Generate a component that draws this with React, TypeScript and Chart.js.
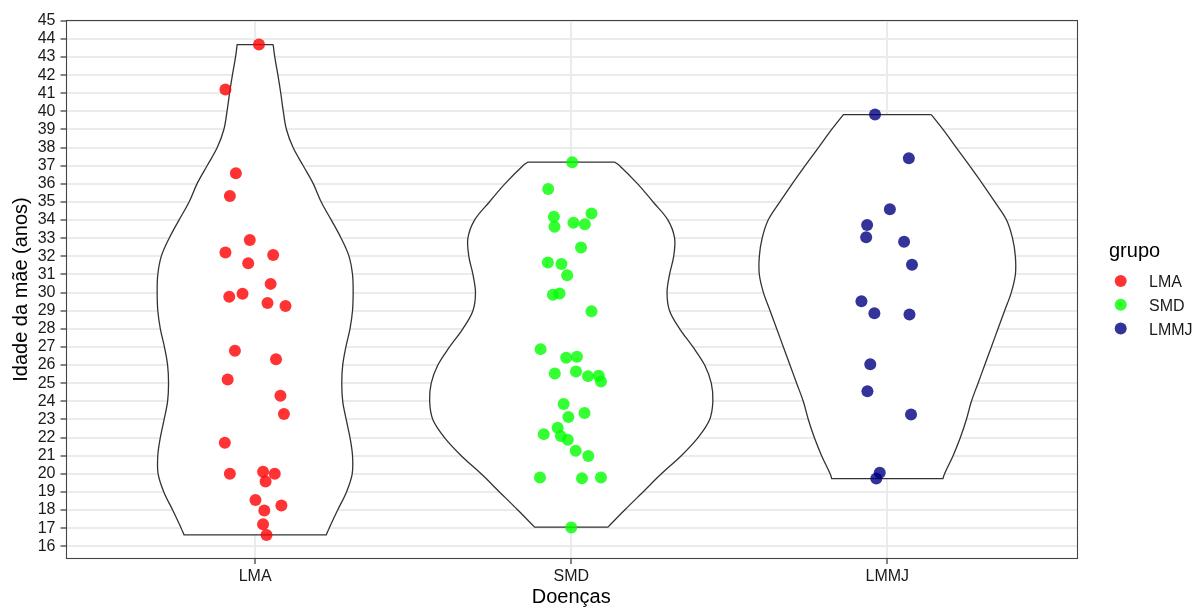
import React, { useEffect, useRef } from 'react';
import { Chart, registerables } from 'chart.js';

Chart.register(...registerables);

// ---------- data ----------
const categories = ['LMA', 'SMD', 'LMMJ'];
const legendTitle = 'grupo';
const xTitle = 'Doenças';
const yTitle = 'Idade da mãe (anos)';
const yTickValues = [16, 17, 18, 19, 20, 21, 22, 23, 24, 25, 26, 27, 28, 29, 30, 31, 32, 33, 34, 35, 36, 37, 38, 39, 40, 41, 42, 43, 44, 45];
const pointColors = ['rgba(255,0,0,0.8)', 'rgba(0,255,0,0.8)', 'rgba(0,0,128,0.8)'];

// jittered observations (age) and horizontal jitter (category units)
const lmaAges = [43.69, 41.21, 36.58, 35.33, 32.9, 32.21, 32.08, 31.62, 30.48, 29.93, 29.77, 29.42, 29.26, 26.79, 26.32, 25.21, 24.31, 23.3, 21.72, 20.01, 20.12, 20.01, 19.57, 18.56, 18.25, 17.97, 17.22, 16.63];
const lmaJitter = [0.012, -0.094, -0.061, -0.08, -0.017, -0.094, 0.057, -0.022, 0.049, -0.04, -0.082, 0.039, 0.096, -0.064, 0.066, -0.087, 0.08, 0.091, -0.096, -0.08, 0.025, 0.062, 0.033, 0.001, 0.083, 0.029, 0.025, 0.036];

const smdAges = [37.19, 35.72, 34.18, 34.36, 33.63, 33.85, 33.77, 32.49, 31.66, 31.58, 30.96, 29.88, 29.95, 28.97, 26.88, 26.4, 26.46, 25.54, 25.65, 25.39, 25.41, 25.1, 23.85, 23.35, 23.13, 22.54, 22.19, 22.08, 21.88, 21.27, 20.98, 19.8, 19.76, 19.8, 17.04];
const smdJitter = [0.003, -0.073, -0.055, 0.064, -0.053, 0.007, 0.043, 0.031, -0.074, -0.031, -0.013, -0.058, -0.037, 0.064, -0.097, -0.016, 0.018, -0.052, 0.015, 0.053, 0.087, 0.094, -0.024, 0.042, -0.009, -0.043, -0.087, -0.033, -0.011, 0.014, 0.054, -0.099, 0.034, 0.094, 0.0];

const lmmjAges = [39.83, 37.41, 34.6, 33.73, 33.05, 32.81, 31.53, 29.52, 28.86, 28.79, 26.05, 24.56, 23.27, 20.06, 19.74];
const lmmjJitter = [-0.039, 0.068, 0.008, -0.064, -0.067, 0.053, 0.078, -0.082, -0.041, 0.07, -0.054, -0.063, 0.075, -0.024, -0.035];

// violin outlines: age levels (top -> bottom) and density half-widths (category units)
const lmaViolinY = [43.68, 43, 42, 41, 40, 39, 38, 37, 36, 35, 34, 33, 32, 31, 30, 29, 28, 27, 26, 25, 24, 23, 22, 21, 20, 19, 18, 17, 16.63];
const lmaViolinHalf = [0.057, 0.062, 0.072, 0.081, 0.089, 0.099, 0.12, 0.152, 0.184, 0.209, 0.241, 0.272, 0.297, 0.308, 0.31, 0.308, 0.3, 0.287, 0.277, 0.274, 0.277, 0.288, 0.3, 0.308, 0.307, 0.289, 0.261, 0.234, 0.225];

const smdViolinY = [37.2, 37, 36, 35, 34, 33, 32, 31, 30, 29, 28, 27, 26, 25, 24, 23, 22, 21, 20, 19, 18, 17.06];
const smdViolinHalf = [0.137, 0.153, 0.21, 0.259, 0.306, 0.327, 0.324, 0.311, 0.303, 0.311, 0.343, 0.385, 0.422, 0.443, 0.448, 0.438, 0.401, 0.348, 0.285, 0.227, 0.169, 0.116];

const lmmjViolinY = [39.82, 39, 38, 37, 36, 35, 34, 33, 32, 31, 30, 29, 28, 27, 26, 25, 24, 23, 22, 21, 20, 19.74];
const lmmjViolinHalf = [0.139, 0.176, 0.218, 0.26, 0.301, 0.34, 0.377, 0.396, 0.405, 0.405, 0.392, 0.371, 0.35, 0.329, 0.308, 0.287, 0.266, 0.25, 0.231, 0.208, 0.181, 0.176];

const groupAges = [lmaAges, smdAges, lmmjAges];
const groupJitter = [lmaJitter, smdJitter, lmmjJitter];
const violinY = [lmaViolinY, smdViolinY, lmmjViolinY];
const violinHalf = [lmaViolinHalf, smdViolinHalf, lmmjViolinHalf];

const FONT = '"Liberation Sans", Arial, Helvetica, sans-serif';

// closed outline; corner points are doubled so the spline keeps sharp corners at the flat ends
function violinPath(gi: number) {
  const c = gi + 1;
  const ys = violinY[gi];
  const hs = violinHalf[gi];
  const n = ys.length;
  const right = ys.map((y, i) => ({ x: c + hs[i], y }));
  const left = ys.map((y, i) => ({ x: c - hs[i], y })).reverse();
  return [
    right[0], { ...right[0] },
    ...right.slice(1, n - 1),
    right[n - 1], { ...right[n - 1] },
    left[0], { ...left[0] },
    ...left.slice(1, n - 1),
    left[n - 1], { ...left[n - 1] },
    { ...right[0] },
  ];
}

const panelBorder = {
  id: 'panelBorder',
  afterDatasetsDraw(chart: any) {
    const { ctx, chartArea } = chart;
    ctx.save();
    ctx.strokeStyle = '#444444';
    ctx.lineWidth = 1.1;
    ctx.strokeRect(Math.round(chartArea.left) + 0.5, Math.round(chartArea.top) + 0.5,
      Math.round(chartArea.right - chartArea.left) - 1, Math.round(chartArea.bottom - chartArea.top) - 1);
    ctx.restore();
  },
};

const ggLegend = {
  id: 'ggLegend',
  afterDraw(chart: any) {
    const { ctx, chartArea } = chart;
    const x0 = chartArea.right + 32;
    ctx.save();
    ctx.fillStyle = '#000';
    ctx.font = `20px ${FONT}`;
    ctx.textBaseline = 'alphabetic';
    ctx.textAlign = 'left';
    ctx.fillText(legendTitle, x0, 257);
    categories.forEach((cat, i) => {
      const cy = 281 + i * 23.8;
      ctx.beginPath();
      ctx.fillStyle = pointColors[i];
      ctx.arc(x0 + 11.7, cy, 6, 0, Math.PI * 2);
      ctx.fill();
      ctx.fillStyle = '#1a1a1a';
      ctx.font = `16px ${FONT}`;
      ctx.fillText(cat, x0 + 40, cy + 6);
    });
    ctx.restore();
  },
};

export default function App() {
  const ref = useRef<HTMLCanvasElement | null>(null);

  useEffect(() => {
    if (!ref.current) return;
    const violinSets = categories.map((cat, gi) => ({
      type: 'line' as const,
      label: 'violin ' + cat,
      data: violinPath(gi),
      borderColor: '#333333',
      borderWidth: 1.3,
      backgroundColor: '#ffffff',
      fill: 'shape',
      pointRadius: 0,
      tension: 0.35,
      order: 2,
    }));
    const pointSets = categories.map((cat, gi) => ({
      type: 'scatter' as const,
      label: cat,
      data: groupAges[gi].map((y, i) => ({ x: gi + 1 + groupJitter[gi][i], y })),
      backgroundColor: pointColors[gi],
      borderWidth: 0,
      pointRadius: 6,
      order: 1,
    }));

    const chart = new Chart(ref.current, {
      type: 'scatter',
      data: { datasets: [...violinSets, ...pointSets] as any },
      options: {
        animation: false,
        responsive: false,
        events: [],
        layout: { padding: { top: 20, right: 125, bottom: 0, left: 0 } },
        plugins: {
          legend: { display: false },
          tooltip: { enabled: false },
        },
        scales: {
          x: {
            type: 'linear',
            min: 0.4,
            max: 3.6,
            afterBuildTicks: (s: any) => {
              s.ticks = categories.map((_, i) => ({ value: i + 1 }));
            },
            afterFit: (s: any) => {
              s.height = 49;
            },
            ticks: {
              callback: (v: any) => categories[Math.round(Number(v)) - 1] ?? '',
              color: '#1a1a1a',
              font: { size: 16, family: FONT },
              padding: 3,
              maxRotation: 0,
              autoSkip: false,
            },
            grid: {
              color: '#EBEBEB',
              lineWidth: 2,
              tickColor: '#333333',
              tickLength: 5,
              tickWidth: 1.2,
            },
            border: { display: false },
            title: {
              display: true,
              text: xTitle,
              color: '#000',
              font: { size: 20, family: FONT, lineHeight: 1 },
              padding: { top: 0, bottom: 1 },
            },
          },
          y: {
            type: 'linear',
            min: 15.3,
            max: 45.04,
            afterBuildTicks: (s: any) => {
              s.ticks = yTickValues.map((v) => ({ value: v }));
            },
            afterFit: (s: any) => {
              s.width = 65.5;
            },
            ticks: {
              color: '#1a1a1a',
              font: { size: 16, family: FONT },
              padding: 5,
              autoSkip: false,
              callback: (v: any) => String(v),
            },
            grid: {
              color: '#EBEBEB',
              lineWidth: 2,
              tickColor: '#333333',
              tickLength: 5,
              tickWidth: 1.2,
            },
            border: { display: false },
            title: {
              display: true,
              text: yTitle,
              color: '#000',
              font: { size: 20, family: FONT, lineHeight: 1 },
              padding: { top: 11, bottom: 0 },
            },
          },
        },
      },
      plugins: [panelBorder, ggLegend],
    });
    return () => chart.destroy();
  }, []);

  return (
    <div style={{ position: 'fixed', left: 0, top: 0, width: 1202, height: 608, background: '#fff' }}>
      <canvas ref={ref} width={1202} height={608} style={{ display: 'block' }} />
    </div>
  );
}
